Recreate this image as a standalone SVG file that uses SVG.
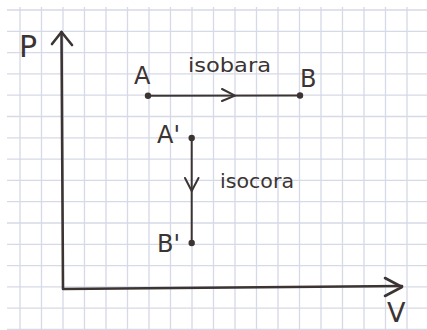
<svg xmlns="http://www.w3.org/2000/svg" width="427" height="330" viewBox="0 0 427 330">
  <defs>
    <style>
      .grid line { stroke: #d6d9e6; stroke-width: 1.3; }
      .ink { stroke: #3b3433; fill: none; stroke-linecap: round; stroke-linejoin: round; }
      .axis { stroke-width: 2.6; }
      .proc { stroke-width: 2; }
      .dot { fill: #3b3433; }
      .lbl { font-family: "DejaVu Sans", "Liberation Sans", sans-serif; fill: #3b3433; }
      .big { font-size: 30px; }
      .pt { font-size: 24px; }
      .word { font-size: 20px; }
    </style>
  </defs>
  <rect width="427" height="330" fill="#ffffff"/>
  <g class="grid">
    <line x1="20" y1="7" x2="20" y2="330"/>
    <line x1="41.5" y1="7" x2="41.5" y2="330"/>
    <line x1="63" y1="7" x2="63" y2="330"/>
    <line x1="84.5" y1="7" x2="84.5" y2="330"/>
    <line x1="106" y1="7" x2="106" y2="330"/>
    <line x1="127.5" y1="7" x2="127.5" y2="330"/>
    <line x1="149" y1="7" x2="149" y2="330"/>
    <line x1="170.5" y1="7" x2="170.5" y2="330"/>
    <line x1="192" y1="7" x2="192" y2="330"/>
    <line x1="213.5" y1="7" x2="213.5" y2="330"/>
    <line x1="235" y1="7" x2="235" y2="330"/>
    <line x1="256.5" y1="7" x2="256.5" y2="330"/>
    <line x1="278" y1="7" x2="278" y2="330"/>
    <line x1="299.5" y1="7" x2="299.5" y2="330"/>
    <line x1="321" y1="7" x2="321" y2="330"/>
    <line x1="342.5" y1="7" x2="342.5" y2="330"/>
    <line x1="364" y1="7" x2="364" y2="330"/>
    <line x1="385.5" y1="7" x2="385.5" y2="330"/>
    <line x1="407" y1="7" x2="407" y2="330"/>
    <line x1="7" y1="10" x2="427" y2="10"/>
    <line x1="7" y1="31.3" x2="427" y2="31.3"/>
    <line x1="7" y1="52.6" x2="427" y2="52.6"/>
    <line x1="7" y1="73.9" x2="427" y2="73.9"/>
    <line x1="7" y1="95.2" x2="427" y2="95.2"/>
    <line x1="7" y1="116.5" x2="427" y2="116.5"/>
    <line x1="7" y1="137.8" x2="427" y2="137.8"/>
    <line x1="7" y1="159.1" x2="427" y2="159.1"/>
    <line x1="7" y1="180.4" x2="427" y2="180.4"/>
    <line x1="7" y1="201.7" x2="427" y2="201.7"/>
    <line x1="7" y1="223" x2="427" y2="223"/>
    <line x1="7" y1="244.3" x2="427" y2="244.3"/>
    <line x1="7" y1="265.6" x2="427" y2="265.6"/>
    <line x1="7" y1="286.9" x2="427" y2="286.9"/>
    <line x1="7" y1="308.2" x2="427" y2="308.2"/>
    <line x1="7" y1="329.5" x2="427" y2="329.5"/>
  </g>
  <g id="axes">
    <path class="ink axis" d="M61.5 32 L63 289 L402 286"/>
    <path class="ink axis" d="M52 44 L61.5 32 L72 45"/>
    <path class="ink axis" d="M385 278 L402 287 L385 296"/>
    <text class="lbl big" x="19" y="57">P</text>
    <text class="lbl" style="font-size:27px" x="387" y="322">V</text>
  </g>
  <g id="connectors">
    <g id="isobara">
      <line class="ink proc" x1="148" y1="95.7" x2="300" y2="95.5"/>
      <path class="ink proc" d="M222 89 L235 95.6 L222 101"/>
      <text class="lbl word" x="188" y="72" textLength="83" lengthAdjust="spacingAndGlyphs">isobara</text>
    </g>
    <g id="isocora">
      <line class="ink proc" x1="191.7" y1="138" x2="191.7" y2="243"/>
      <path class="ink proc" d="M185 178 L191.7 191 L198.5 178"/>
      <text class="lbl word" x="220" y="188" textLength="74" lengthAdjust="spacingAndGlyphs">isocora</text>
    </g>
  </g>
  <g id="node-A">
    <circle class="dot" cx="148" cy="95.7" r="3.2"/>
    <text class="lbl pt" x="134" y="84">A</text>
  </g>
  <g id="node-B">
    <circle class="dot" cx="300" cy="95.5" r="3.2"/>
    <text class="lbl pt" x="300" y="87">B</text>
  </g>
  <g id="node-A1">
    <circle class="dot" cx="191.7" cy="138" r="3.2"/>
    <text class="lbl pt" x="157" y="143">A'</text>
  </g>
  <g id="node-B1">
    <circle class="dot" cx="191.7" cy="243" r="3.2"/>
    <text class="lbl pt" x="157" y="252">B'</text>
  </g>
</svg>
